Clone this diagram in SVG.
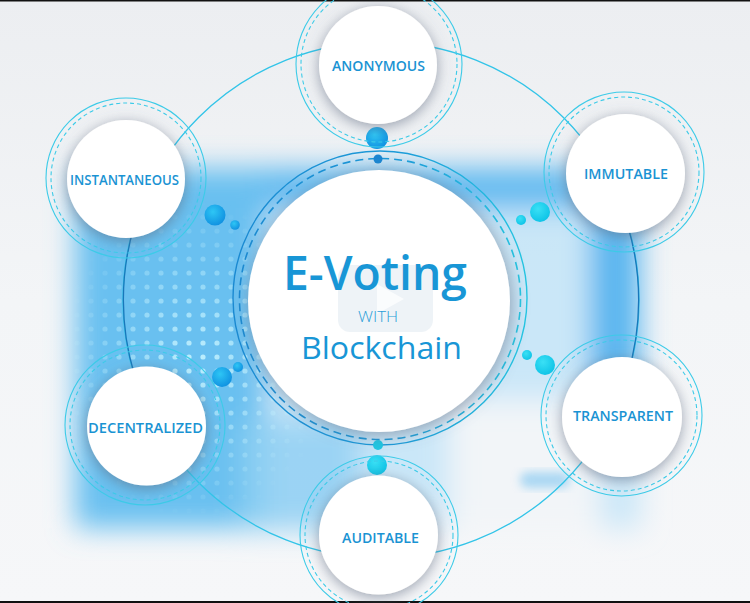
<svg xmlns="http://www.w3.org/2000/svg" width="750" height="603" viewBox="0 0 750 603">
<defs>
  <linearGradient id="bgGrad" x1="0" y1="0" x2="0" y2="1">
    <stop offset="0" stop-color="#eceef1"/>
    <stop offset="0.5" stop-color="#f3f5f7"/>
    <stop offset="1" stop-color="#f6f7f9"/>
  </linearGradient>
  <filter id="blurBig" x="-30%" y="-30%" width="160%" height="160%">
    <feGaussianBlur stdDeviation="14"/>
  </filter>
  <filter id="blurSmall" x="-30%" y="-30%" width="160%" height="160%">
    <feGaussianBlur stdDeviation="5"/>
  </filter>
  <filter id="shadow" x="-40%" y="-40%" width="180%" height="180%">
    <feDropShadow dx="0" dy="3" stdDeviation="7" flood-color="#5e6b80" flood-opacity="0.6"/>
  </filter>
  <filter id="shadowBig" x="-30%" y="-30%" width="160%" height="160%">
    <feDropShadow dx="2" dy="3" stdDeviation="8" flood-color="#5e6b80" flood-opacity="0.55"/>
  </filter>
  <pattern id="dotGrid" x="0" y="0" width="14" height="14" patternUnits="userSpaceOnUse">
    <circle cx="7" cy="7" r="2.6" fill="#c8f4ff"/>
  </pattern>
  <radialGradient id="dotMaskGrad" cx="0.45" cy="0.5" r="0.5">
    <stop offset="0" stop-color="#fff" stop-opacity="0.9"/>
    <stop offset="1" stop-color="#fff" stop-opacity="0"/>
  </radialGradient>
  <mask id="dotMask">
    <rect x="70" y="200" width="280" height="320" fill="url(#dotMaskGrad)"/>
  </mask>
  <linearGradient id="ringGrad" x1="0" y1="0" x2="1" y2="0">
    <stop offset="0" stop-color="#1a8ad2"/>
    <stop offset="0.55" stop-color="#1c9ad8"/>
    <stop offset="1" stop-color="#25c6e2"/>
  </linearGradient>
  <radialGradient id="dotBlue" cx="0.4" cy="0.35" r="0.7">
    <stop offset="0" stop-color="#2ec6f5"/>
    <stop offset="1" stop-color="#0f8fe0"/>
  </radialGradient>
  <radialGradient id="dotCyan" cx="0.4" cy="0.35" r="0.7">
    <stop offset="0" stop-color="#3ae0f5"/>
    <stop offset="1" stop-color="#0cc2e6"/>
  </radialGradient>
  <style>
    .white { fill: #ffffff; }
    .sring { fill: none; stroke: #3ccbe8; stroke-width: 1.1; }
    .dring { fill: none; stroke: #3ccbe8; stroke-width: 1.1; stroke-dasharray: 4 3; }
    .label { font-family: "Open Sans", "Liberation Sans", sans-serif; font-weight: 600; font-size: 14px; fill: #1a93d3; text-anchor: middle; }
    .orbit { fill: none; stroke: #32c4e8; stroke-width: 1.3; }
    .orbitDark { fill: none; stroke: #1877bb; stroke-width: 1.3; }
  </style>
</defs>

<!-- background -->
<g id="background">
  <rect x="0" y="0" width="750" height="603" fill="url(#bgGrad)"/>
  <g filter="url(#blurBig)">
    <rect x="75" y="168" width="565" height="360" fill="#bfe3f7" opacity="0.8"/>
    <rect x="75" y="168" width="565" height="40" fill="#5fb9f0"/>
    <rect x="75" y="168" width="190" height="360" fill="#69c0f0"/>
    <rect x="590" y="172" width="50" height="290" fill="#58b5ef"/>
    <rect x="450" y="400" width="150" height="130" fill="#f2f5f8"/>
    <rect x="240" y="420" width="120" height="110" fill="#8fd0f3" opacity="0.8"/>
  </g>
  <rect x="520" y="472" width="50" height="16" rx="8" fill="#7cc4f0" opacity="0.6" filter="url(#blurSmall)"/>
  <rect x="70" y="200" width="280" height="320" fill="url(#dotGrid)" mask="url(#dotMask)"/>
  <rect x="0" y="0" width="750" height="1.5" fill="#111"/>
  <rect x="0" y="601" width="750" height="2" fill="#111"/>
</g>

<!-- connectors: orbit -->
<g id="connectors">
  <circle class="orbit" cx="381" cy="300" r="258"/>
  <path class="orbitDark" d="M134.5,225 A258,258 0 0 0 134.5,375"/>
  <path class="orbitDark" d="M627.5,225 A258,258 0 0 1 627.5,375"/>
</g>

<!-- decorative dots -->
<g id="dots">
  <circle cx="377" cy="138" r="11" fill="url(#dotBlue)"/>
  <circle cx="377" cy="465" r="10" fill="url(#dotCyan)"/>
  <circle cx="215" cy="215" r="10.5" fill="url(#dotBlue)"/>
  <circle cx="235" cy="225" r="4.8" fill="url(#dotBlue)"/>
  <circle cx="540" cy="212" r="10" fill="url(#dotCyan)"/>
  <circle cx="521" cy="220" r="5" fill="url(#dotCyan)"/>
  <circle cx="545" cy="365" r="10" fill="url(#dotCyan)"/>
  <circle cx="527" cy="355" r="5" fill="url(#dotCyan)"/>
  <circle cx="222" cy="377" r="10" fill="url(#dotBlue)"/>
  <circle cx="238" cy="367" r="5" fill="url(#dotBlue)"/>
</g>

<!-- central node -->
<g id="center">
  <circle cx="380" cy="298" r="147" fill="none" stroke="url(#ringGrad)" stroke-width="1.4"/>
  <circle cx="380" cy="299" r="140.5" fill="none" stroke="url(#ringGrad)" stroke-width="1.6" stroke-dasharray="8 5"/>
  <circle cx="378" cy="159" r="4.5" fill="#1a86d2"/>
  <circle cx="378" cy="445" r="5" fill="#1fc6e2"/>
  <circle class="white" cx="379" cy="301" r="131" filter="url(#shadowBig)"/>
  <rect x="338" y="265" width="95" height="67" rx="12" fill="#dde8f0" opacity="0.5"/>
  <path d="M377,284 L404,299 L377,314 Z" fill="#ffffff" opacity="0.7"/>
  <text x="375" y="290" font-family="'Open Sans', 'Liberation Sans', sans-serif" font-weight="600" font-size="47" fill="#1896d6" text-anchor="middle" textLength="184" lengthAdjust="spacingAndGlyphs">E-Voting</text>
  <text x="378" y="322" font-family="'Open Sans', 'Liberation Sans', sans-serif" font-weight="300" font-size="15" fill="#2a9ed8" text-anchor="middle" textLength="40" lengthAdjust="spacingAndGlyphs">WITH</text>
  <text x="381.5" y="359" font-family="'Open Sans', 'Liberation Sans', sans-serif" font-weight="400" font-size="31" fill="#1896d6" text-anchor="middle" textLength="161" lengthAdjust="spacingAndGlyphs">Blockchain</text>
</g>

<!-- satellites -->
<g id="node-anonymous">
  <circle class="sring" cx="379" cy="64" r="83"/>
  <circle class="dring" cx="379" cy="64" r="78"/>
  <circle class="white" cx="378" cy="65" r="59" filter="url(#shadow)"/>
  <text class="label" x="378.5" y="70.5" textLength="93" lengthAdjust="spacingAndGlyphs">ANONYMOUS</text>
</g>
<g id="node-instantaneous">
  <circle class="sring" cx="126" cy="178" r="80"/>
  <circle class="dring" cx="126" cy="178" r="75"/>
  <circle class="white" cx="126" cy="179" r="59" filter="url(#shadow)"/>
  <text class="label" x="124.5" y="184.5" textLength="109" lengthAdjust="spacingAndGlyphs">INSTANTANEOUS</text>
</g>
<g id="node-immutable">
  <circle class="sring" cx="624" cy="172" r="80"/>
  <circle class="dring" cx="624" cy="172" r="75"/>
  <circle class="white" cx="625.5" cy="173.5" r="59.5" filter="url(#shadow)"/>
  <text class="label" x="626" y="179" textLength="84" lengthAdjust="spacingAndGlyphs">IMMUTABLE</text>
</g>
<g id="node-transparent">
  <circle class="sring" cx="621.5" cy="415.5" r="80.5"/>
  <circle class="dring" cx="621.5" cy="415.5" r="75.5"/>
  <circle class="white" cx="622" cy="417" r="60" filter="url(#shadow)"/>
  <text class="label" x="623" y="421" textLength="100" lengthAdjust="spacingAndGlyphs">TRANSPARENT</text>
</g>
<g id="node-decentralized">
  <circle class="sring" cx="145" cy="425" r="80"/>
  <circle class="dring" cx="145" cy="425" r="75"/>
  <circle class="white" cx="146.5" cy="426" r="59.5" filter="url(#shadow)"/>
  <text class="label" x="145.5" y="433" textLength="115" lengthAdjust="spacingAndGlyphs">DECENTRALIZED</text>
</g>
<g id="node-auditable">
  <circle class="sring" cx="379" cy="535" r="79"/>
  <circle class="dring" cx="379" cy="535" r="74"/>
  <circle class="white" cx="378.5" cy="535" r="59.5" filter="url(#shadow)"/>
  <text class="label" x="380.5" y="543" textLength="77" lengthAdjust="spacingAndGlyphs">AUDITABLE</text>
</g>
</svg>
